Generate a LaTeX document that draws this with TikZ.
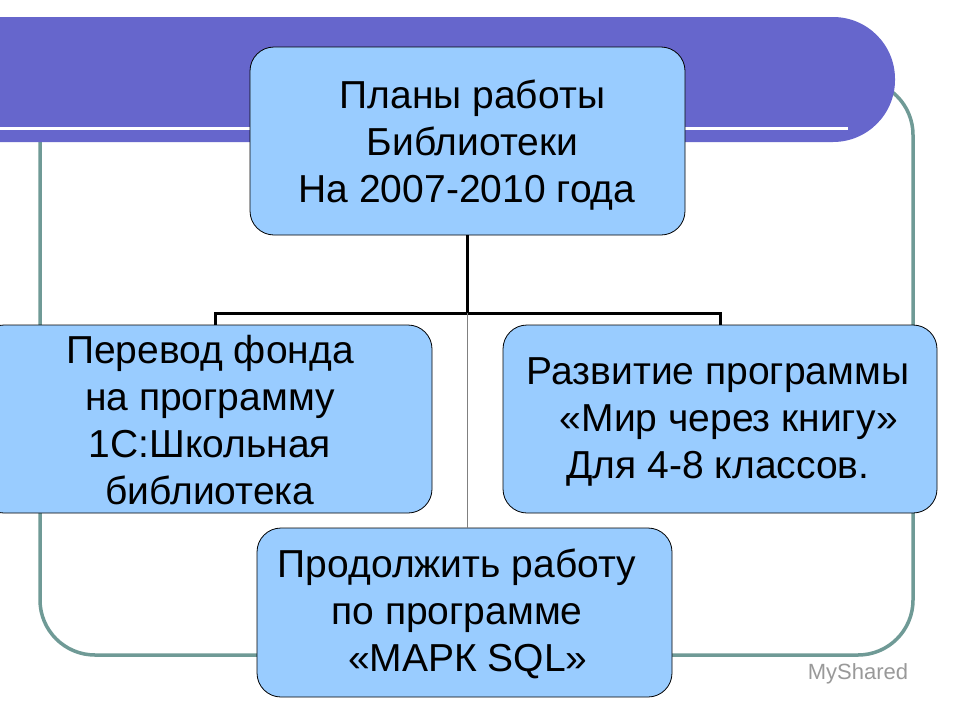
\documentclass[tikz,border=0pt]{standalone}
\usepackage{fontspec}
\setmainfont{Liberation Sans}
\begin{document}
\begin{tikzpicture}[x=1pt,y=-1pt,
  box/.style={draw=black,line width=0.8pt,fill=boxblue,rounded corners=24pt},
  lbl/.style={align=center,font=\fontsize{39}{47}\selectfont}]
\definecolor{boxblue}{HTML}{99CCFF}
\definecolor{barblue}{HTML}{6666CC}
\definecolor{frame}{HTML}{6F9A96}
\useasboundingbox (0,0) rectangle (960,720);
\fill[white] (0,0) rectangle (960,720);
% frame
\draw[frame,line width=3.5pt,rounded corners=55pt] (40,80) rectangle (913,655);
% bar
\fill[barblue,rounded corners=62pt] (-70,17) rectangle (895,142);
\draw[white,line width=3pt] (0,128) -- (848,128);
% boxes
\draw[box] (250,47) rectangle (685,235);
\node[lbl] (top) at (467,145) {\ Планы работы\\\ Библиотеки\\На 2007-2010 года};
\draw[box] (-20,325) rectangle (432,513);
\node[lbl] (left) at (210,420) {Перевод фонда\\на программу\\1С:Школьная\\библиотека};
\draw[box] (503,325) rectangle (937,513);
\node[lbl] (right) at (718,422) {Развитие программы\\\ \ «Мир через книгу»\\Для 4-8 классов.};
\draw[box] (257,528) rectangle (672,697);
\node[lbl] (bot) at (457,614) {Продолжить работу\\по программе\\\ \ «МАРК SQL»};
% connectors
\coordinate (t) at (467,235);
\coordinate (j) at (467,313);
\coordinate (jl) at (215,313);
\coordinate (jr) at (720,313);
\coordinate (bl) at (215,325);
\coordinate (br) at (720,325);
\coordinate (bb) at (467,528);
\draw[line width=3pt] (t) -- (j);
\draw[line width=3pt] (bl) -- (jl) -- (jr) -- (br);
\draw[gray,line width=0.6pt] (j) -- (bb);
\node[font=\fontsize{22}{24}\selectfont,text=gray!80] (wm) at (858,674) {MyShared};
\end{tikzpicture}
\end{document}
